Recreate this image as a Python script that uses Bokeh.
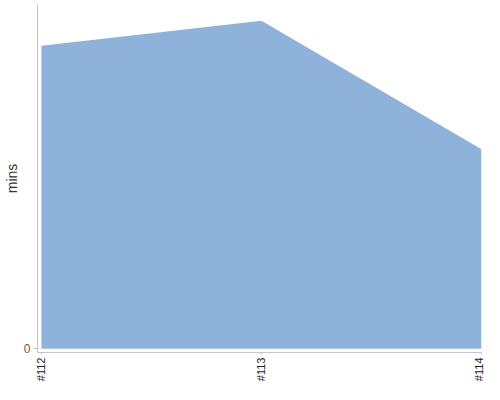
import math
from bokeh.plotting import figure
from bokeh.models import ColumnDataSource, Range1d, FixedTicker
from bokeh.embed import file_html
from bokeh.resources import INLINE

builds = ["#112", "#113", "#114"]
mins = [31.6, 34.2, 20.8]

xs = list(range(len(builds)))
src = ColumnDataSource(dict(x=xs, y=mins))

p = figure(width=484, height=384, output_backend="svg", toolbar_location=None,
           x_range=Range1d(-0.018, 2.0), y_range=Range1d(-0.4, 35.9),
           min_border_left=30, min_border_right=3, min_border_top=4, min_border_bottom=28)
p.varea(x="x", y1=0, y2="y", source=src, fill_color="#8fb2da", fill_alpha=1.0)

p.grid.visible = False
p.outline_line_color = None
p.background_fill_color = "white"
p.border_fill_color = "white"

xa = p.xaxis[0]
xa.ticker = FixedTicker(ticks=xs)
xa.major_label_overrides = {i: b for i, b in enumerate(builds)}
xa.major_label_orientation = math.pi / 2
xa.major_label_text_font = "Liberation Sans"
xa.major_label_text_font_size = "11px"
xa.major_label_text_color = "#222222"
xa.major_tick_out = 2
xa.major_tick_in = 0
xa.major_tick_line_color = "#c0c0c0"
xa.minor_tick_line_color = None
xa.axis_line_color = "#c8c8c8"
xa.major_label_standoff = 3

ya = p.yaxis[0]
ya.ticker = FixedTicker(ticks=[0])
ya.major_label_text_font = "Liberation Sans"
ya.major_label_text_font_size = "12px"
ya.major_label_text_color = "#606060"
ya.major_tick_out = 4
ya.major_tick_in = 0
ya.major_tick_line_color = "#c0c0c0"
ya.minor_tick_line_color = None
ya.axis_line_color = "#c0c0c0"
ya.major_label_standoff = 3
ya.axis_label = "mins"
ya.axis_label_text_font = "Liberation Sans"
ya.axis_label_text_font_size = "14px"
ya.axis_label_text_font_style = "normal"
ya.axis_label_text_color = "#333333"
ya.axis_label_standoff = 1

open("out.html", "w").write(file_html(p, INLINE))
